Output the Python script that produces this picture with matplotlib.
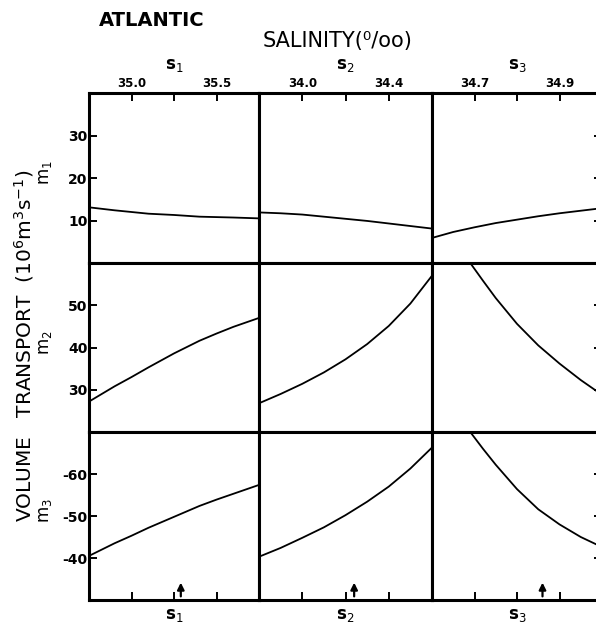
import numpy as np
import matplotlib.pyplot as plt

# salinity ranges of the three columns (s1, s2, s3)
s_lims = [(34.75, 35.75), (33.8, 34.6), (34.6, 35.0)]
s_ticks = [[35.0, 35.25, 35.5], [34.0, 34.2, 34.4], [34.7, 34.8, 34.9]]
s_ticklabels = [["35.0", "", "35.5"], ["34.0", "", "34.4"], ["34.7", "", "34.9"]]
s_names = ["s$_1$", "s$_2$", "s$_3$"]
s_arrow = [35.29, 34.24, 34.86]

# transport ranges of the three rows (m1, m2, m3)
m_lims = [(0, 40), (20, 60), (-30, -70)]
m_ticks = [[10, 20, 30], [30, 40, 50], [-40, -50, -60]]
m_names = ["m$_1$", "m$_2$", "m$_3$"]

# curves: [row][col] -> (salinity, transport)
s1 = [34.75, 34.9, 35.0, 35.1, 35.25, 35.4, 35.5, 35.6, 35.75]
s2 = [33.8, 33.9, 34.0, 34.1, 34.2, 34.3, 34.4, 34.5, 34.6]
s3_m1 = [34.6, 34.65, 34.7, 34.75, 34.8, 34.85, 34.9, 34.95, 35.0]
s3_m23 = [34.69, 34.72, 34.75, 34.8, 34.85, 34.9, 34.95, 35.0]

m1_c1 = [13.1, 12.4, 12.0, 11.6, 11.3, 10.9, 10.8, 10.7, 10.5]
m1_c2 = [11.9, 11.7, 11.4, 10.9, 10.4, 9.9, 9.3, 8.7, 8.1]
m1_c3 = [5.9, 7.3, 8.4, 9.4, 10.2, 11.0, 11.7, 12.3, 12.9]

m2_c1 = [27.2, 30.8, 33.0, 35.3, 38.6, 41.6, 43.3, 44.9, 47.0]
m2_c2 = [26.8, 29.0, 31.4, 34.1, 37.2, 40.8, 45.1, 50.4, 57.0]
m2_c3 = [60.0, 55.8, 51.7, 45.6, 40.5, 36.2, 32.3, 28.8]

m3_c1 = [-40.5, -43.5, -45.3, -47.2, -49.8, -52.4, -53.9, -55.3, -57.4]
m3_c2 = [-40.3, -42.4, -44.8, -47.3, -50.2, -53.4, -57.0, -61.3, -66.3]
m3_c3 = [-70.0, -66.0, -62.2, -56.4, -51.6, -48.0, -45.0, -42.6]

curves = [
    [(s1, m1_c1), (s2, m1_c2), (s3_m1, m1_c3)],
    [(s1, m2_c1), (s2, m2_c2), (s3_m23, m2_c3)],
    [(s1, m3_c1), (s2, m3_c2), (s3_m23, m3_c3)],
]

W, H = 596.0, 625.0
col_px = [(89, 259), (259, 432), (432, 602)]
row_px = [(93, 263), (263, 432), (432, 600)]

fig = plt.figure(figsize=(5.96, 6.25), dpi=100)

for r in range(3):
    for c in range(3):
        x0, x1 = col_px[c]
        y0, y1 = row_px[r]
        ax = fig.add_axes([x0 / W, 1 - y1 / H, (x1 - x0) / W, (y1 - y0) / H])
        xs, ys = curves[r][c]
        ax.plot(xs, ys, color="black", lw=1.3)
        ax.set_xlim(*s_lims[c])
        ax.set_ylim(*m_lims[r])
        for sp in ax.spines.values():
            sp.set_linewidth(2.2)
        ax.tick_params(direction="in", length=6, width=1.4, pad=1,
                       labelsize=10)
        # x ticks: top row labelled on top, bottom row ticks only
        ax.set_xticks(s_ticks[c])
        if r == 0:
            ax.tick_params(axis="x", top=True, bottom=False,
                           labeltop=True, labelbottom=False, labelsize=8.5, pad=2)
            ax.set_xticklabels(s_ticklabels[c], fontweight="bold")
        elif r == 2:
            ax.tick_params(axis="x", top=False, bottom=True, labelbottom=False)
        else:
            ax.tick_params(axis="x", top=False, bottom=False, labelbottom=False)
        # y ticks: left column labelled, right column ticks only
        ax.set_yticks(m_ticks[r])
        if c == 0:
            ax.tick_params(axis="y", left=True, right=False, labelleft=True)
            ax.set_yticklabels([str(v) for v in m_ticks[r]], fontweight="bold")
        elif c == 2:
            ax.tick_params(axis="y", left=False, right=True, labelleft=False)
        else:
            ax.tick_params(axis="y", left=False, right=False, labelleft=False)
        if r == 0:
            ax.text(0.5, 1.0 + 19 / (y1 - y0), s_names[c], transform=ax.transAxes,
                    ha="center", va="bottom", fontsize=12, fontweight="bold")
        if r == 2:
            ax.annotate("", xy=(s_arrow[c], -34.8), xytext=(s_arrow[c], -30.2),
                        arrowprops=dict(arrowstyle="-|>", lw=1.6, color="black",
                                        mutation_scale=10))
            ax.text(0.5, -15 / (y1 - y0), s_names[c], transform=ax.transAxes,
                    ha="center", va="center", fontsize=12, fontweight="bold")
        if c == 0:
            ax.text(-44 / (x1 - x0), 0.5 + 0.03, m_names[r], transform=ax.transAxes,
                    ha="center", va="center", rotation=90, fontsize=12)

fig.text(152 / W, 1 - 20 / H, "ATLANTIC", ha="center", va="center",
         fontsize=14, fontweight="bold")
fig.text(338 / W, 1 - 41 / H, "SALINITY(\u2070/oo)", ha="center", va="center",
         fontsize=15)
fig.text(24 / W, 1 - 346 / H, "VOLUME   TRANSPORT  (10$^6$m$^3$s$^{-1}$)",
         ha="center", va="center", rotation=90, fontsize=14.5)

fig.savefig("out.png", dpi=100)
